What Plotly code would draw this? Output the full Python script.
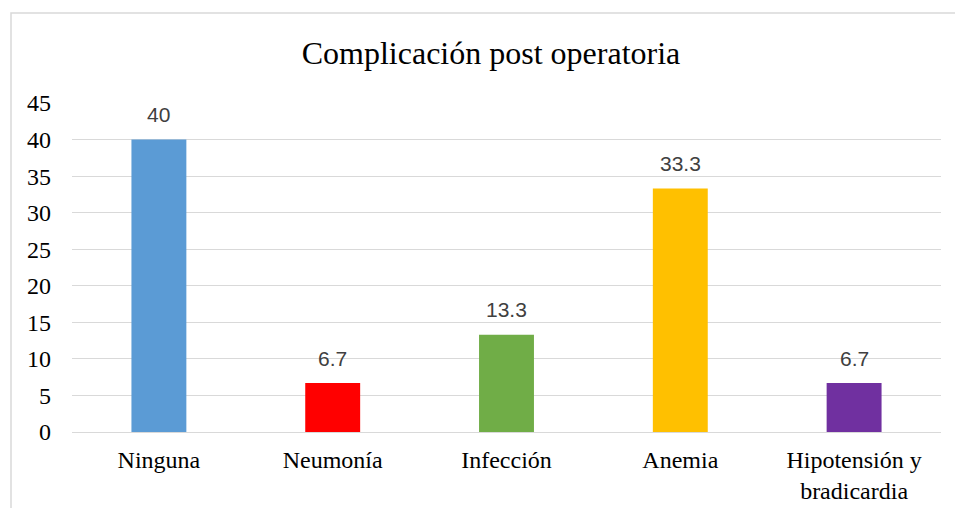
import plotly.graph_objects as go

categories = ["Ninguna", "Neumonía", "Infección", "Anemia", "Hipotensión y<br>bradicardia"]
values = [40, 6.7, 13.3, 33.3, 6.7]
value_labels = ["40", "6.7", "13.3", "33.3", "6.7"]
colors = ["#5B9BD5", "#FF0000", "#70AD47", "#FFC000", "#7030A0"]
y_ticks = [0, 5, 10, 15, 20, 25, 30, 35, 40, 45]

fig = go.Figure()
fig.add_trace(go.Bar(
    x=categories, y=values, marker=dict(color=colors, line=dict(width=0)),
    hoverinfo="skip", showlegend=False,
))

for c, v, t in zip(categories, values, value_labels):
    fig.add_annotation(x=c, y=v, text=t, showarrow=False, yanchor="middle", yshift=25,
                       font=dict(family="Liberation Sans", size=21, color="#404040"))

fig.add_shape(type="rect", xref="paper", yref="paper",
              x0=-0.0702, x1=1.2, y0=-0.5, y1=1.2736,
              line=dict(color="#D9D9D9", width=1.5), fillcolor="rgba(0,0,0,0)", layer="below")

fig.update_layout(
    width=955, height=508,
    margin=dict(l=72, r=14, t=103, b=76, autoexpand=False),
    paper_bgcolor="white", plot_bgcolor="white",
    bargap=0.684,
    title=dict(text="Complicación post operatoria", x=491/955, xanchor="center",
               y=1 - 53/508, yanchor="middle", xref="container", yref="container",
               font=dict(family="Liberation Serif", size=32, color="#000000")),
    font=dict(family="Liberation Serif", color="#000000"),
)
fig.update_yaxes(range=[0, 45], tickvals=y_ticks, showgrid=True, gridcolor="#D9D9D9", gridwidth=1.3,
                 zeroline=False, showline=False, ticks="", ticklabelstandoff=20, automargin=False,
                 tickfont=dict(family="Liberation Serif", size=24, color="#000000"))
fig.update_xaxes(showgrid=False, showline=True, linecolor="#D9D9D9", linewidth=1.3, ticks="",
                 ticklabelstandoff=6, automargin=False,
                 tickfont=dict(family="Liberation Serif", size=24, color="#000000"))

fig.write_html("out.html", config={"displayModeBar": False},
               post_script="document.body.style.margin='0';document.body.style.overflow='hidden';")
